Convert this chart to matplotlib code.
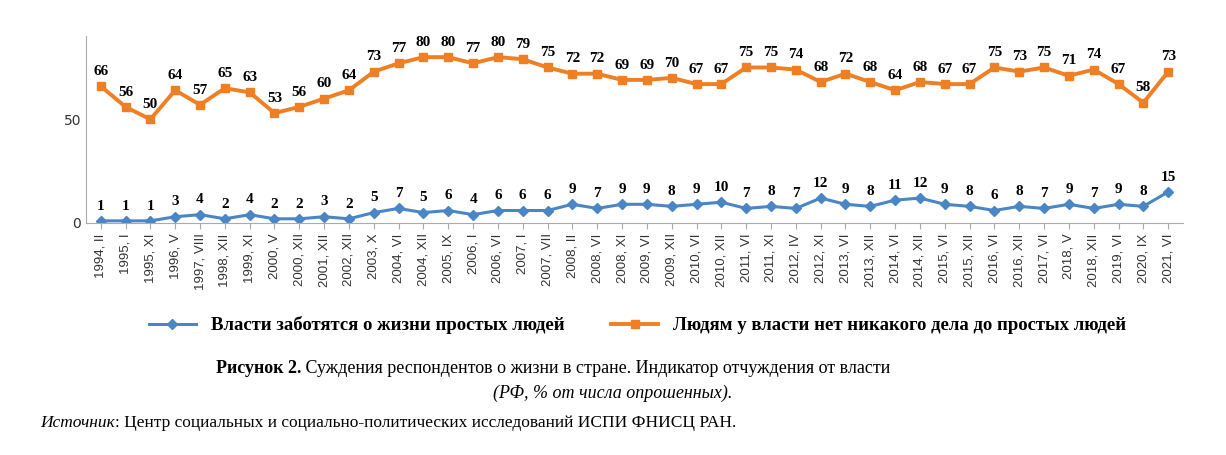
import matplotlib.pyplot as plt
import numpy as np

periods = ["1994, II", "1995, I", "1995, XI", "1996, V", "1997, VIII", "1998, XII", "1999, XI",
           "2000, V", "2000, XII", "2001, XII", "2002, XII", "2003, X", "2004, VI", "2004, XII",
           "2005, IX", "2006, I", "2006, VI", "2007, I", "2007, VII", "2008, II", "2008, VI",
           "2008, XI", "2009, VI", "2009, XII", "2010, VI", "2010, XII", "2011, VI", "2011, XI",
           "2012, IV", "2012, XI", "2013, VI", "2013, XII", "2014, VI", "2014, XII", "2015, VI",
           "2015, XII", "2016, VI", "2016, XII", "2017, VI", "2018, V", "2018, XII", "2019, VI",
           "2020, IX", "2021, VI"]
care = [1, 1, 1, 3, 4, 2, 4, 2, 2, 3, 2, 5, 7, 5, 6, 4, 6, 6, 6, 9, 7, 9, 9, 8, 9, 10, 7, 8,
        7, 12, 9, 8, 11, 12, 9, 8, 6, 8, 7, 9, 7, 9, 8, 15]
nocare = [66, 56, 50, 64, 57, 65, 63, 53, 56, 60, 64, 73, 77, 80, 80, 77, 80, 79, 75, 72, 72,
          69, 69, 70, 67, 67, 75, 75, 74, 68, 72, 68, 64, 68, 67, 67, 75, 73, 75, 71, 74, 67,
          58, 73]

blue = "#4a86c5"
orange = "#f07f24"
serif = "Liberation Serif"

fig = plt.figure(figsize=(12.26, 4.55), dpi=100)
ax = fig.add_axes([0.07, 0.51, 0.895, 0.41])
x = np.arange(len(periods))
ax.plot(x, care, color=blue, lw=2.2, marker="D", ms=5, label="Власти заботятся о жизни простых людей")
ax.plot(x, nocare, color=orange, lw=2.8, marker="s", ms=6,
        label="Людям у власти нет никакого дела до простых людей")
for xi, v in zip(x, care):
    ax.text(xi, v + 4, str(v), ha="center", va="bottom", fontsize=11, fontweight="bold", family=serif)
for xi, v in zip(x, nocare):
    ax.text(xi, v + 4, str(v), ha="center", va="bottom", fontsize=11, fontweight="bold", family=serif)

ax.set_xlim(-0.6, len(periods) - 0.4)
ax.set_ylim(0, 90)
ax.set_yticks([0, 50])
ax.set_xticks(x)
ax.set_xticklabels(periods, rotation=90, fontsize=9.5, family="Liberation Sans", color="#333333")
ax.tick_params(axis="y", labelsize=10, length=0, colors="#333333")
ax.tick_params(axis="x", length=4, color="#aaaaaa")
for s in ["top", "right"]:
    ax.spines[s].set_visible(False)
ax.spines["left"].set_color("#aaaaaa")
ax.spines["bottom"].set_color("#aaaaaa")

fig.legend(loc="center", bbox_to_anchor=(0.52, 0.285), ncol=2, frameon=False,
           prop={"family": serif, "weight": "bold", "size": 13.5}, handlelength=2.5, columnspacing=2.5)


def chain(x0, y, parts, size):
    # draw text pieces one after another on the same line
    r = fig.canvas.get_renderer()
    xp = x0
    for txt, kw in parts:
        t = fig.text(xp, y, txt, fontsize=size, family=serif, va="center", **kw)
        bb = t.get_window_extent(renderer=r)
        xp += bb.width / fig.bbox.width


chain(0.176, 0.19, [("Рисунок 2.", {"fontweight": "bold"}),
                    (" Суждения респондентов о жизни в стране. Индикатор отчуждения от власти", {})], 13)
fig.text(0.5, 0.135, "(РФ, % от числа опрошенных).", fontsize=13, family=serif, style="italic",
         ha="center", va="center")
chain(0.033, 0.07, [("Источник", {"style": "italic"}),
                    (": Центр социальных и социально-политических исследований ИСПИ ФНИСЦ РАН.", {})], 12.5)

fig.savefig("out.png", dpi=100)
